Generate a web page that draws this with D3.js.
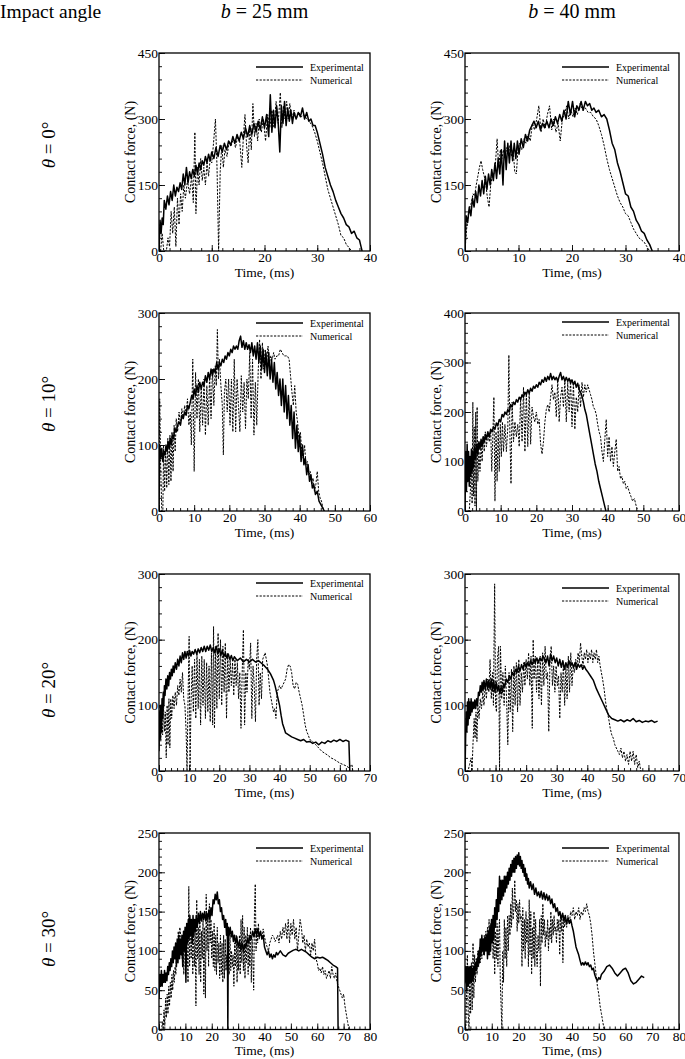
<!DOCTYPE html>
<html><head><meta charset="utf-8">
<script src="https://cdn.jsdelivr.net/npm/d3@7"></script>
<style>
html,body{margin:0;padding:0;background:#fff;}
svg{display:block;font-family:"Liberation Serif","Times New Roman",serif;}
</style></head>
<body><svg id="chart" width="685" height="1059"></svg>
<script>
// ---------- DATA ----------
const colHeaders = ["25", "40"];           // b values (mm)
const rowAngles = ["0", "10", "20", "30"]; // theta values (deg)
const xMaxes = [40, 40, 60, 60, 70, 70, 80, 80];
const yMaxes = [450, 450, 300, 400, 300, 300, 250, 250];
const yMajor = [150, 150, 100, 100, 100, 100, 50, 50];
const xMajor = 10;
const seriesNames = ["Experimental", "Numerical"];

// flat [t, F, t, F, ...] arrays: time (ms), contact force (N)
const exp_b25_t0 = [0,0, 0.2,70, 0.4,40, 0.6,75, 0.8,60, 1,115, 1.3,95, 1.6,125, 1.9,105, 2.2,135, 2.5,115, 2.8,150, 3.1,125, 3.4,145, 3.7,135, 4,155, 4.3,140, 4.6,175, 4.9,150, 5.2,190, 5.5,155, 5.8,180, 6.1,165, 6.4,185, 6.7,170, 7,195, 7.3,175, 7.6,200, 7.9,185, 8.2,205, 8.5,195, 8.8,215, 9.1,200, 9.4,220, 9.7,205, 10,225, 10.4,210, 10.8,235, 11.2,215, 11.6,240, 12,225, 12.4,245, 12.8,230, 13.2,250, 13.6,240, 14,260, 14.4,245, 14.8,265, 15.2,250, 15.6,270, 16,255, 16.4,280, 16.8,260, 17.2,285, 17.6,265, 18,290, 18.4,270, 18.8,295, 19.2,275, 19.6,305, 20,280, 20.4,310, 20.8,260, 21.1,355, 21.4,270, 21.7,320, 22,280, 22.3,330, 22.6,290, 22.9,225, 23.2,330, 23.5,290, 23.8,340, 24.1,285, 24.4,325, 24.7,295, 25,320, 25.3,290, 25.6,315, 26,300, 26.4,315, 26.8,305, 27.2,325, 27.6,300, 28,315, 28.4,295, 28.8,300, 29.2,285, 29.6,285, 30,270, 30.5,245, 31,220, 31.5,190, 32,170, 32.5,150, 33,135, 33.5,115, 34,100, 34.5,85, 35,75, 35.5,60, 36,55, 36.5,40, 37,45, 37.5,30, 38,25, 38.3,10, 38.5,0];
const num_b25_t0 = [0.3,0, 0.6,40, 0.9,0, 1.4,0, 1.7,30, 2,10, 2.3,90, 2.6,40, 2.9,100, 3.2,10, 3.5,120, 3.8,60, 4.1,130, 4.4,90, 4.7,150, 5,120, 5.4,160, 5.8,130, 6.2,170, 6.5,110, 6.8,270, 7,85, 7.3,190, 7.6,150, 7.9,210, 8.2,160, 8.5,190, 8.8,150, 9.1,200, 9.4,170, 9.7,210, 10,200, 10.3,240, 10.7,300, 11,190, 11.3,0, 11.6,180, 11.9,240, 12.2,190, 12.5,230, 12.9,215, 13.3,250, 13.7,240, 14.1,255, 14.5,235, 14.9,260, 15.3,250, 15.7,190, 16,260, 16.3,310, 16.6,240, 16.9,200, 17.2,280, 17.5,230, 17.8,335, 18.1,260, 18.4,290, 18.7,250, 19,300, 19.4,270, 19.8,300, 20.2,250, 20.6,310, 21,280, 21.4,320, 21.8,280, 22.2,340, 22.6,290, 23,360, 23.3,280, 23.6,330, 23.9,300, 24.2,340, 24.5,300, 24.8,335, 25.2,300, 25.6,320, 26,300, 26.5,315, 27,305, 27.5,310, 28,300, 28.5,295, 29,285, 29.5,270, 30,250, 30.5,225, 31,200, 31.5,170, 32,140, 32.5,120, 33,100, 33.5,80, 34,60, 34.5,35, 35,30, 35.5,15, 36,8, 36.5,0];
const exp_b40_t0 = [0,0, 0.2,80, 0.5,65, 0.8,100, 1.1,80, 1.4,120, 1.7,100, 2,135, 2.3,110, 2.6,150, 2.9,125, 3.2,160, 3.5,130, 3.8,170, 4.1,140, 4.4,175, 4.7,150, 5,185, 5.3,160, 5.6,200, 5.9,165, 6.2,210, 6.5,175, 6.8,230, 7.1,150, 7.4,250, 7.7,185, 8,245, 8.3,200, 8.6,250, 8.9,205, 9.2,245, 9.5,210, 9.8,250, 10.1,220, 10.5,255, 10.9,235, 11.3,265, 11.7,250, 12.1,275, 12.5,285, 12.9,295, 13.3,280, 13.7,295, 14.1,275, 14.5,290, 14.9,280, 15.3,295, 15.7,280, 16.1,300, 16.5,285, 16.9,305, 17.3,290, 17.7,310, 18.1,295, 18.5,320, 18.9,300, 19.3,340, 19.7,310, 20.1,340, 20.5,305, 20.9,330, 21.3,320, 21.7,340, 22.1,320, 22.5,340, 22.9,330, 23.3,335, 23.7,320, 24.1,325, 24.5,315, 25,320, 25.5,305, 26,310, 26.5,300, 27,275, 27.5,245, 28,230, 28.5,200, 29,180, 29.5,155, 30,130, 30.5,125, 31,100, 31.5,90, 32,70, 32.5,60, 33,45, 33.5,40, 34,25, 34.5,15, 35,0];
const num_b40_t0 = [0,0, 0.3,50, 0.6,80, 0.9,100, 1.2,110, 1.5,130, 1.8,125, 2.1,150, 2.4,170, 2.7,190, 3,205, 3.3,185, 3.6,170, 3.9,150, 4.2,120, 4.5,100, 4.8,150, 5.1,170, 5.4,175, 5.7,200, 6,255, 6.3,190, 6.6,230, 6.9,210, 7.2,230, 7.5,215, 7.8,235, 8.1,220, 8.4,240, 8.7,215, 9,230, 9.3,180, 9.6,175, 9.9,230, 10.2,245, 10.6,230, 11,255, 11.4,245, 11.8,265, 12.2,250, 12.6,290, 13,275, 13.4,300, 13.8,330, 14.2,270, 14.6,300, 15,280, 15.4,310, 15.8,330, 16.2,275, 16.6,300, 17,270, 17.4,290, 17.8,250, 18.2,300, 18.6,310, 19,330, 19.4,300, 19.8,320, 20.2,305, 20.6,325, 21,310, 21.5,335, 22,320, 22.5,325, 23,315, 23.5,315, 24,305, 24.5,300, 25,285, 25.5,265, 26,240, 26.5,210, 27,185, 27.5,165, 28,145, 28.5,125, 29,110, 29.5,100, 30,85, 30.5,80, 31,65, 31.5,50, 32,40, 32.5,30, 33,25, 33.5,20, 34,10, 34.5,0];
const exp_b25_t10 = [0,0, 0.2,100, 0.5,80, 0.8,95, 1.1,75, 1.4,90, 1.7,85, 2,100, 2.3,90, 2.6,105, 2.9,95, 3.2,110, 3.5,100, 3.8,115, 4.1,110, 4.5,125, 4.9,120, 5.3,130, 5.7,135, 6.1,130, 6.5,145, 6.9,140, 7.3,150, 7.7,145, 8.1,160, 8.5,155, 8.9,165, 9.3,175, 9.7,170, 10,185, 10.4,175, 10.8,190, 11.2,180, 11.6,195, 12,185, 12.4,195, 12.8,190, 13.2,205, 13.6,195, 14,210, 14.4,200, 14.8,215, 15.2,205, 15.6,215, 16,210, 16.4,225, 16.8,215, 17.2,225, 17.6,220, 18,230, 18.4,225, 18.8,235, 19.2,230, 19.6,240, 20,235, 20.4,245, 20.8,240, 21.2,250, 21.6,245, 22,250, 22.4,245, 22.8,258, 23.2,265, 23.6,248, 24,258, 24.4,245, 24.8,255, 25.2,245, 25.6,252, 26,240, 26.4,255, 26.8,235, 27.2,250, 27.6,230, 28,255, 28.4,225, 28.8,250, 29.2,215, 29.6,245, 30,210, 30.4,240, 30.8,205, 31.2,240, 31.6,200, 32,230, 32.4,195, 32.8,225, 33.2,185, 33.6,210, 34,175, 34.4,200, 34.8,160, 35.2,200, 35.6,150, 36,190, 36.4,140, 36.8,175, 37.2,130, 37.6,160, 38,110, 38.4,150, 38.8,95, 39.2,130, 39.6,90, 40,115, 40.4,75, 40.8,100, 41.2,70, 41.6,80, 42,55, 42.4,70, 42.8,45, 43.2,55, 43.6,35, 44,40, 44.5,25, 45,30, 45.5,15, 46,10, 46.5,5, 47,0];
const num_b25_t10 = [0,0, 0.2,170, 0.5,60, 0.8,0, 1.1,0, 1.3,100, 1.6,30, 1.9,95, 2.2,35, 2.5,110, 2.8,40, 3.1,115, 3.4,45, 3.7,120, 4,60, 4.3,130, 4.6,90, 4.9,140, 5.3,120, 5.7,150, 6.1,130, 6.5,155, 6.9,140, 7.3,160, 7.7,145, 8.1,170, 8.5,130, 8.9,150, 9.2,100, 9.6,230, 10,60, 10.4,210, 10.8,140, 11.2,200, 11.6,120, 12,190, 12.4,130, 12.8,200, 13.2,115, 13.6,190, 14,130, 14.4,205, 14.8,140, 15.2,215, 15.6,160, 16,220, 16.3,190, 16.6,275, 16.9,200, 17.2,230, 17.6,190, 18,160, 18.3,85, 18.6,180, 19,200, 19.4,150, 19.8,200, 20.2,130, 20.6,200, 21,120, 21.4,230, 21.8,120, 22.2,200, 22.6,160, 23,120, 23.4,205, 23.8,150, 24.2,195, 24.6,125, 25,200, 25.4,170, 25.8,240, 26.2,140, 26.6,230, 27,115, 27.4,195, 27.8,130, 28.2,210, 28.6,260, 29,200, 29.4,255, 29.8,215, 30.2,245, 30.6,225, 31,250, 31.4,225, 31.8,235, 32.2,230, 32.6,240, 33,230, 33.5,235, 34,235, 34.5,245, 35,240, 35.5,235, 36,235, 36.5,235, 37,230, 37.4,205, 37.8,180, 38.2,160, 38.6,190, 39,150, 39.4,135, 39.8,110, 40.2,120, 40.6,90, 41,80, 41.4,100, 41.8,70, 42.2,75, 42.6,55, 43,60, 43.4,40, 43.8,50, 44.2,30, 44.6,40, 45,60, 45.4,30, 45.8,20, 46.2,15, 46.6,5, 47,0];
const exp_b40_t10 = [0,0, 0.2,120, 0.4,40, 0.6,135, 0.8,60, 1,120, 1.2,50, 1.4,110, 1.6,70, 1.8,125, 2,80, 2.2,120, 2.4,90, 2.7,130, 3,105, 3.3,135, 3.6,115, 3.9,140, 4.2,125, 4.5,145, 4.8,130, 5.1,150, 5.4,140, 5.7,155, 6,145, 6.4,160, 6.8,150, 7.2,165, 7.6,160, 8,170, 8.4,165, 8.8,178, 9.2,172, 9.6,185, 10,180, 10.4,195, 10.8,190, 11.2,200, 11.6,195, 12,205, 12.4,200, 12.8,215, 13.2,210, 13.6,220, 14,215, 14.4,225, 14.8,220, 15.2,230, 15.6,225, 16,235, 16.4,230, 16.8,240, 17.2,235, 17.6,245, 18,238, 18.4,248, 18.8,242, 19.2,252, 19.6,248, 20,255, 20.4,250, 20.8,260, 21.2,255, 21.6,265, 22,260, 22.4,270, 22.8,262, 23.2,272, 23.6,265, 24,278, 24.4,265, 24.8,272, 25.2,265, 25.6,270, 26,262, 26.4,272, 26.8,280, 27.2,265, 27.6,272, 28,262, 28.4,270, 28.8,262, 29.2,268, 29.6,258, 30,265, 30.4,255, 30.8,262, 31.2,250, 31.6,258, 32,245, 32.4,240, 32.8,232, 33.2,220, 33.6,205, 34,195, 34.5,175, 35,155, 35.5,135, 36,115, 36.5,95, 37,80, 37.5,60, 38,45, 38.5,30, 39,15, 39.5,0];
const num_b40_t10 = [0.8,0, 1.2,0, 1.5,40, 1.8,100, 2,15, 2.2,220, 2.4,30, 2.6,170, 2.8,10, 3,200, 3.2,0, 3.4,210, 3.6,60, 3.9,120, 4.2,80, 4.5,135, 4.8,100, 5.1,150, 5.4,120, 5.7,160, 6,130, 6.4,155, 6.8,140, 7.2,165, 7.5,80, 7.8,150, 8.1,230, 8.4,20, 8.7,160, 9,60, 9.3,170, 9.6,80, 9.9,175, 10.2,110, 10.5,180, 10.8,120, 11.2,175, 11.6,120, 12,170, 12.3,315, 12.6,150, 12.9,55, 13.2,220, 13.6,140, 14,180, 14.4,150, 14.8,175, 15.2,130, 15.6,230, 16,140, 16.4,250, 16.8,120, 17.2,240, 17.6,130, 18,240, 18.4,135, 18.8,210, 19.2,190, 19.6,180, 20,200, 20.4,175, 20.8,185, 21.2,135, 21.6,115, 22,140, 22.4,180, 22.8,205, 23.2,215, 23.6,200, 24,230, 24.4,255, 24.8,225, 25.2,240, 25.6,190, 26,265, 26.4,180, 26.8,230, 27.2,250, 27.6,210, 28,265, 28.4,180, 28.8,260, 29.2,200, 29.6,265, 30,170, 30.4,260, 30.8,165, 31.2,230, 31.6,200, 32,255, 32.4,210, 32.8,260, 33.2,230, 33.6,255, 34,240, 34.4,255, 34.8,245, 35.2,235, 35.6,225, 36,210, 36.4,205, 36.8,195, 37.2,175, 37.6,160, 38,150, 38.4,120, 38.8,100, 39.2,145, 39.6,185, 40,110, 40.4,150, 40.8,100, 41.2,130, 41.6,90, 42,120, 42.4,145, 42.8,80, 43.2,90, 43.6,65, 44,70, 44.4,55, 44.8,60, 45.2,45, 45.6,50, 46,40, 46.5,30, 47,20, 47.5,25, 48,10, 48.5,0];
const exp_b25_t20 = [0,30, 0.2,90, 0.4,50, 0.6,100, 0.8,60, 1,110, 1.2,80, 1.4,120, 1.6,100, 1.8,130, 2,115, 2.3,140, 2.6,125, 2.9,145, 3.2,130, 3.5,150, 3.8,140, 4.1,155, 4.4,145, 4.7,160, 5,150, 5.4,165, 5.8,155, 6.2,170, 6.6,160, 7,175, 7.4,165, 7.8,180, 8.2,170, 8.6,182, 9,172, 9.4,182, 9.8,175, 10.2,183, 10.6,175, 11,182, 11.5,178, 12,185, 12.5,178, 13,186, 13.5,180, 14,188, 14.5,182, 15,190, 15.5,182, 16,190, 16.5,184, 17,192, 17.5,182, 18,188, 18.5,180, 19,190, 19.5,178, 20,186, 20.5,176, 21,184, 21.5,174, 22,180, 22.5,172, 23,178, 23.5,170, 24,176, 24.5,168, 25,174, 26,168, 27,172, 28,166, 29,170, 30,166, 31,170, 32,166, 33,168, 34,164, 35,160, 36,155, 37,148, 38,138, 38.5,130, 39,120, 39.5,110, 40,100, 40.5,85, 41,72, 41.5,65, 42,58, 43,55, 44,52, 45,50, 46,48, 47,46, 48,48, 49,44, 50,45, 51,42, 52,44, 53,40, 54,44, 55,42, 56,46, 57,44, 58,47, 59,45, 60,48, 61,45, 62,47, 63,45, 63.3,0];
const num_b25_t20 = [0,40, 0.3,100, 0.6,45, 0.9,95, 1.2,55, 1.5,100, 1.8,60, 2.1,90, 2.4,20, 2.7,100, 3,40, 3.3,110, 3.6,35, 3.9,110, 4.2,80, 4.6,115, 5,95, 5.4,120, 5.8,100, 6.2,130, 6.6,115, 7,140, 7.4,120, 7.8,150, 8.2,110, 8.6,100, 9,60, 9.3,0, 9.6,100, 10,205, 10.3,0, 10.6,100, 11,160, 11.4,90, 11.8,170, 12.2,80, 12.6,180, 13,95, 13.4,170, 13.8,70, 14.2,175, 14.6,100, 15,170, 15.4,80, 15.8,165, 16.2,90, 16.6,160, 17,75, 17.4,180, 17.8,70, 18.1,220, 18.4,65, 18.8,190, 19.2,95, 19.6,210, 20,110, 20.4,200, 20.8,100, 21.2,190, 21.6,120, 22,195, 22.4,80, 22.8,180, 23.2,120, 23.6,170, 24,130, 24.4,165, 24.8,115, 25.2,170, 25.6,130, 26,165, 26.4,110, 26.8,150, 27.2,65, 27.6,150, 28,215, 28.4,70, 28.8,150, 29.2,120, 29.6,170, 30,155, 30.4,195, 30.8,80, 31.2,160, 31.6,130, 32,75, 32.4,170, 32.8,200, 33.2,100, 33.6,150, 34,110, 34.4,170, 34.8,175, 35.2,180, 35.6,170, 36,160, 36.4,140, 36.8,120, 37.2,110, 37.6,100, 38,90, 38.4,95, 38.8,80, 39.2,120, 39.6,125, 40,130, 40.5,125, 41,130, 41.5,135, 42,140, 42.5,155, 43,162, 43.5,160, 44,150, 44.5,130, 45,125, 45.5,135, 46,132, 46.5,120, 47,110, 47.5,100, 48,85, 48.5,70, 49,60, 49.5,55, 50,48, 51,45, 52,40, 53,35, 54,30, 55,27, 56,24, 57,20, 58,18, 59,15, 60,12, 61,10, 62,8, 63,5, 64,10, 64.3,0];
const exp_b40_t20 = [0,0, 0.2,50, 0.4,90, 0.6,60, 0.8,105, 1,70, 1.2,110, 1.4,80, 1.6,105, 1.8,85, 2,110, 2.3,90, 2.6,105, 2.9,95, 3.2,108, 3.5,95, 3.8,110, 4.1,100, 4.4,120, 4.7,115, 5,130, 5.3,120, 5.6,135, 5.9,122, 6.2,138, 6.6,125, 7,140, 7.4,125, 7.8,138, 8.2,125, 8.6,140, 9,122, 9.4,138, 9.8,120, 10.2,135, 10.6,122, 11,130, 11.4,118, 11.8,128, 12.2,120, 12.6,132, 13,128, 13.5,140, 14,135, 14.5,145, 15,140, 15.5,150, 16,145, 16.5,155, 17,150, 17.5,160, 18,152, 18.5,162, 19,155, 19.5,165, 20,158, 20.5,165, 21,160, 21.5,168, 22,162, 22.5,170, 23,165, 23.5,172, 24,165, 24.5,172, 25,168, 25.5,175, 26,170, 26.5,165, 27,175, 27.5,160, 28,178, 28.5,168, 29,175, 29.5,165, 30,172, 30.5,160, 31,170, 31.5,158, 32,168, 32.5,155, 33,165, 33.5,158, 34,168, 34.5,160, 35,165, 35.5,158, 36,165, 36.5,155, 37,163, 37.5,158, 38,162, 38.5,155, 39,160, 39.5,155, 40,152, 41,145, 42,138, 43,125, 44,115, 45,105, 46,95, 47,85, 48,80, 49,78, 50,76, 51,78, 52,75, 53,78, 54,76, 55,80, 56,75, 57,77, 58,74, 59,76, 60,75, 61,77, 62,74, 63,76];
const num_b40_t20 = [0.5,0, 1,0, 1.5,10, 2,20, 2.3,0, 2.6,40, 3,80, 3.3,50, 3.6,90, 3.9,45, 4.2,100, 4.6,80, 5,110, 5.4,95, 5.8,120, 6.2,100, 6.6,130, 7,110, 7.4,140, 7.8,120, 8.2,170, 8.6,110, 9,150, 9.3,100, 9.7,285, 10,100, 10.3,90, 10.6,170, 11,190, 11.3,0, 11.6,190, 12,110, 12.4,150, 12.8,100, 13.2,160, 13.6,110, 14,40, 14.4,150, 14.8,90, 15.2,155, 15.6,60, 16,160, 16.4,100, 16.8,165, 17.2,90, 17.6,170, 18,100, 18.4,150, 18.8,120, 19.2,165, 19.6,130, 20,170, 20.4,140, 20.8,180, 21.2,130, 21.6,175, 22,65, 22.3,200, 22.6,140, 23,175, 23.4,120, 23.8,170, 24.2,110, 24.6,175, 25,100, 25.4,180, 25.8,130, 26.2,190, 26.6,140, 27,150, 27.4,60, 27.8,170, 28.2,190, 28.6,130, 29,160, 29.4,120, 29.8,160, 30.2,130, 30.6,145, 31,80, 31.4,150, 31.8,120, 32.2,165, 32.6,100, 33,160, 33.4,110, 33.8,175, 34.2,120, 34.6,180, 35,130, 35.4,160, 35.8,150, 36.2,170, 36.6,160, 37,180, 37.4,165, 37.8,195, 38.2,175, 38.6,160, 39,180, 39.4,170, 39.8,185, 40.2,165, 40.6,180, 41,170, 41.4,185, 41.8,165, 42.2,180, 42.6,170, 43,185, 43.4,165, 43.8,175, 44.2,160, 44.6,150, 45,140, 45.5,125, 46,105, 46.5,90, 47,80, 47.5,65, 48,55, 48.5,50, 49,40, 49.5,35, 50,30, 50.5,25, 51,35, 51.5,20, 52,30, 52.5,15, 53,25, 53.5,10, 54,30, 54.5,15, 55,30, 55.5,10, 56,25, 56.5,5, 57,15, 57.5,0];
const exp_b25_t30 = [0,40, 0.3,70, 0.6,55, 0.9,75, 1.2,55, 1.5,70, 1.8,60, 2.1,75, 2.4,60, 2.7,72, 3,62, 3.3,80, 3.6,70, 3.9,85, 4.2,75, 4.5,90, 4.8,80, 5.1,100, 5.4,85, 5.7,105, 6,90, 6.3,110, 6.6,80, 6.9,115, 7.2,85, 7.5,120, 7.8,90, 8.1,115, 8.4,95, 8.7,120, 9,80, 9.3,125, 9.6,100, 9.9,130, 10.2,60, 10.5,135, 10.8,110, 11.1,140, 11.4,115, 11.7,145, 12,120, 12.3,140, 12.6,110, 12.9,145, 13.2,120, 13.5,140, 13.8,125, 14.1,145, 14.5,130, 14.9,148, 15.3,135, 15.7,150, 16.1,138, 16.5,148, 16.9,140, 17.3,150, 17.7,138, 18.1,148, 18.5,140, 18.9,152, 19.3,140, 19.7,155, 20.1,145, 20.5,165, 20.9,160, 21.3,172, 21.7,165, 22.1,175, 22.5,160, 22.9,165, 23.3,150, 23.7,155, 24.1,140, 24.5,145, 24.9,130, 25.3,140, 25.6,120, 25.9,135, 26.1,0, 26.3,130, 26.6,120, 27,130, 27.4,118, 27.8,125, 28.2,112, 28.6,120, 29,110, 29.5,118, 30,105, 30.5,112, 31,102, 31.5,110, 32,100, 32.5,108, 33,105, 33.5,115, 34,110, 34.5,120, 35,115, 35.5,125, 36,118, 36.5,128, 37,120, 37.5,128, 38,118, 38.5,125, 39,115, 39.5,120, 40,105, 40.5,100, 41,95, 41.5,100, 42,92, 42.5,96, 43,90, 43.5,95, 44,92, 44.5,98, 45,95, 46,100, 47,95, 48,93, 49,97, 50,99, 51,101, 52,102, 53,100, 54,102, 55,100, 56,98, 57,95, 58,92, 59,90, 60,92, 61,91, 62,92, 63,90, 64,88, 65,85, 66,82, 67,80, 67.7,78, 67.9,0];
const num_b25_t30 = [0.5,0, 1,0, 1.3,10, 1.6,0, 1.9,25, 2.2,5, 2.5,40, 2.8,15, 3.1,45, 3.4,20, 3.7,55, 4,30, 4.3,60, 4.6,40, 4.9,70, 5.2,50, 5.5,75, 5.8,60, 6.1,80, 6.4,70, 6.7,110, 7,90, 7.3,125, 7.6,100, 7.9,130, 8.2,120, 8.5,110, 8.8,90, 9.1,120, 9.4,70, 9.7,115, 10,130, 10.3,80, 10.6,120, 11,60, 11.3,182, 11.6,80, 11.9,140, 12.2,90, 12.5,135, 12.8,70, 13.1,125, 13.4,80, 13.7,130, 14,30, 14.3,165, 14.6,90, 14.9,130, 15.2,70, 15.5,140, 15.8,60, 16.1,125, 16.4,90, 16.7,140, 17,45, 17.3,130, 17.6,40, 17.9,172, 18.2,100, 18.5,140, 18.8,80, 19.1,160, 19.4,110, 19.7,140, 20,90, 20.3,125, 20.6,80, 20.9,135, 21.2,75, 21.5,120, 21.8,70, 22.1,130, 22.4,85, 22.7,110, 23,65, 23.3,120, 23.6,70, 23.9,110, 24.2,60, 24.5,120, 24.8,65, 25.1,115, 25.4,75, 25.7,95, 26,70, 26.3,100, 26.6,70, 26.9,120, 27.2,75, 27.5,100, 27.8,80, 28.1,95, 28.4,55, 28.7,110, 29,80, 29.3,120, 29.6,60, 29.9,105, 30.2,75, 30.5,120, 30.8,70, 31.1,140, 31.4,85, 31.7,145, 32,75, 32.3,130, 32.6,65, 32.9,120, 33.2,85, 33.5,130, 33.8,70, 34.1,120, 34.4,80, 34.7,130, 35,60, 35.3,115, 35.6,90, 35.9,50, 36.2,150, 36.5,185, 36.8,100, 37.1,130, 37.4,110, 37.7,135, 38,115, 38.5,125, 39,115, 39.5,128, 40,118, 40.5,110, 41,105, 41.5,100, 42,110, 42.5,115, 43,120, 43.5,118, 44,112, 44.5,115, 45,120, 45.5,110, 46,125, 46.5,115, 47,130, 47.5,120, 48,135, 48.5,115, 49,140, 49.5,110, 50,135, 50.5,120, 51,140, 51.5,115, 52,130, 52.5,100, 53,120, 53.5,140, 54,130, 54.5,110, 55,120, 55.5,100, 56,115, 56.5,105, 57,110, 57.5,95, 58,110, 58.5,100, 59,115, 59.5,90, 60,85, 60.5,75, 61,78, 61.5,72, 62,80, 62.5,70, 63,75, 63.5,65, 64,70, 64.5,75, 65,65, 65.5,80, 66,70, 66.5,65, 67,72, 67.5,60, 68,55, 68.5,50, 69,45, 69.5,40, 70,45, 70.5,30, 71,20, 71.5,10, 72,0];
const exp_b40_t30 = [0,60, 0.3,80, 0.6,50, 0.9,80, 1.2,55, 1.5,80, 1.8,60, 2.1,80, 2.4,60, 2.7,78, 3,62, 3.3,80, 3.6,70, 3.9,85, 4.2,75, 4.5,90, 4.8,80, 5.1,100, 5.4,85, 5.7,115, 6,95, 6.3,120, 6.6,100, 6.9,115, 7.2,95, 7.5,118, 7.8,100, 8.1,120, 8.4,90, 8.7,125, 9,95, 9.3,130, 9.6,100, 9.9,140, 10.2,110, 10.5,145, 10.8,115, 11.1,155, 11.4,130, 11.7,165, 12,140, 12.3,180, 12.6,150, 12.9,195, 13.2,160, 13.5,190, 13.8,165, 14.1,190, 14.4,170, 14.7,195, 15,175, 15.3,195, 15.6,180, 15.9,200, 16.2,185, 16.5,205, 16.8,190, 17.1,210, 17.4,195, 17.7,215, 18,200, 18.3,218, 18.6,200, 18.9,220, 19.2,205, 19.5,222, 19.8,210, 20.1,225, 20.4,208, 20.7,220, 21,205, 21.3,215, 21.6,200, 21.9,210, 22.2,195, 22.5,205, 22.8,190, 23.1,198, 23.4,185, 23.7,192, 24,180, 24.5,188, 25,178, 25.5,185, 26,172, 26.5,180, 27,170, 27.5,175, 28,168, 28.5,176, 29,166, 29.5,174, 30,165, 30.5,172, 31,164, 31.5,170, 32,160, 32.5,166, 33,155, 33.5,160, 34,150, 34.5,155, 35,145, 35.5,150, 36,140, 36.5,148, 37,138, 37.5,145, 38,135, 38.5,142, 39,135, 39.5,140, 40,132, 40.5,125, 41,115, 41.5,105, 42,100, 42.5,95, 43,88, 43.5,82, 44,85, 44.5,82, 45,86, 45.5,82, 46,85, 46.5,80, 47,82, 47.5,76, 48,78, 48.5,70, 49,65, 49.5,62, 50,66, 50.5,64, 51,70, 52,74, 53,80, 54,82, 55,78, 56,72, 57,68, 58,72, 59,76, 60,78, 61,72, 62,62, 63,58, 64,60, 65,64, 66,68, 67,66];
const num_b40_t30 = [0.3,0, 0.6,50, 0.9,95, 1.2,20, 1.5,0, 1.8,75, 2.1,20, 2.4,85, 2.7,25, 3,110, 3.3,40, 3.6,95, 3.9,60, 4.2,90, 4.5,70, 4.8,100, 5.1,80, 5.4,105, 5.7,85, 6,110, 6.3,90, 6.6,115, 6.9,95, 7.2,120, 7.5,100, 7.8,125, 8.1,105, 8.4,130, 8.7,100, 9,140, 9.3,95, 9.6,135, 9.9,110, 10.2,140, 10.5,90, 10.8,130, 11.1,70, 11.4,125, 11.7,90, 12,135, 12.3,80, 12.6,120, 12.9,140, 13.2,60, 13.5,30, 13.8,0, 14.1,100, 14.4,60, 14.7,140, 15,90, 15.3,130, 15.6,80, 15.9,145, 16.2,100, 16.5,145, 16.8,120, 17.1,160, 17.4,130, 17.7,180, 18,140, 18.3,155, 18.6,190, 18.9,150, 19.2,165, 19.5,125, 19.8,160, 20.1,135, 20.4,165, 20.7,140, 21,145, 21.3,80, 21.6,155, 21.9,100, 22.2,140, 22.5,90, 22.8,150, 23.1,110, 23.4,140, 23.7,80, 24,165, 24.3,95, 24.6,150, 24.9,70, 25.2,130, 25.5,90, 25.8,150, 26.1,80, 26.4,140, 26.7,95, 27,80, 27.3,120, 27.6,100, 27.9,140, 28.2,55, 28.5,145, 28.8,110, 29.1,160, 29.4,120, 29.7,140, 30,105, 30.3,125, 30.6,115, 30.9,140, 31.2,100, 31.5,130, 31.8,115, 32.1,150, 32.4,110, 32.7,140, 33,120, 33.3,145, 33.6,125, 33.9,130, 34.2,110, 34.5,140, 34.8,125, 35.1,140, 35.4,95, 35.7,145, 36,125, 36.3,140, 36.6,85, 36.9,145, 37.2,130, 37.5,140, 38,130, 38.5,145, 39,135, 39.5,150, 40,145, 40.5,155, 41,140, 41.5,150, 42,145, 42.5,155, 43,140, 43.5,150, 44,145, 44.5,155, 45,150, 45.5,160, 46,150, 46.5,145, 47,135, 47.5,120, 48,100, 48.5,85, 49,70, 49.5,55, 50,45, 50.5,30, 51,20, 51.5,10, 52,0];

const expSeries = [exp_b25_t0, exp_b40_t0, exp_b25_t10, exp_b40_t10, exp_b25_t20, exp_b40_t20, exp_b25_t30, exp_b40_t30];
const numSeries = [num_b25_t0, num_b40_t0, num_b25_t10, num_b40_t10, num_b25_t20, num_b40_t20, num_b25_t30, num_b40_t30];

// ---------- LAYOUT ----------
const colLeft = [159, 465], colW = [211, 214];
const rowTop = [53, 313, 574, 833], rowH = [198, 198, 197, 196.5];
const rowLabelCy = [145, 404, 690, 939];
const legendDy = [14, 14, 10, 9, 9, 14, 15, 15];
const FONT = '"Liberation Serif","Times New Roman",serif';

const svg = d3.select("#chart");
svg.append("rect").attr("width", 685).attr("height", 1059).attr("fill", "#fff");

// headers
svg.append("text").attr("x", 0).attr("y", 18).attr("font-size", 19.5).text("Impact angle");
colHeaders.forEach((b, c) => {
  const t = svg.append("text").attr("x", colLeft[c] + colW[c] / 2).attr("y", 18)
    .attr("font-size", 20).attr("text-anchor", "middle");
  t.append("tspan").attr("font-style", "italic").text("b");
  t.append("tspan").text(" = " + b + " mm");
});
rowAngles.forEach((a, r) => {
  const t = svg.append("text").attr("transform", `translate(55,${rowLabelCy[r]}) rotate(-90)`)
    .attr("font-size", 19).attr("text-anchor", "middle");
  t.append("tspan").attr("font-style", "italic").text("θ");
  t.append("tspan").text(" = " + a + "°");
});

const toPairs = arr => d3.range(0, arr.length, 2).map(i => [arr[i], arr[i + 1]]);

for (let p = 0; p < 8; p++) {
  const r = Math.floor(p / 2), c = p % 2;
  const L = colLeft[c], T = rowTop[r], W = colW[c], H = rowH[r];
  const x = d3.scaleLinear().domain([0, xMaxes[p]]).range([L, L + W]);
  const y = d3.scaleLinear().domain([0, yMaxes[p]]).range([T + H, T]);
  const g = svg.append("g");

  const clipId = "clip" + p;
  g.append("clipPath").attr("id", clipId).append("rect")
    .attr("x", L).attr("y", T - 1).attr("width", W).attr("height", H + 1);

  const xMinor = d3.range(0, xMaxes[p] + 0.001, xMajor / 5);
  const yMinor = d3.range(0, yMaxes[p] + 0.001, yMajor[p] / 5);
  const xMaj = d3.range(0, xMaxes[p] + 0.001, xMajor);
  const yMaj = d3.range(0, yMaxes[p] + 0.001, yMajor[p]);

  // minor ticks (inward)
  g.append("g").attr("transform", `translate(0,${T + H})`)
    .call(d3.axisBottom(x).tickValues(xMinor).tickSize(-3).tickFormat(""))
    .call(s => s.select(".domain").remove());
  g.append("g").attr("transform", `translate(${L},0)`)
    .call(d3.axisLeft(y).tickValues(yMinor).tickSize(-3).tickFormat(""))
    .call(s => s.select(".domain").remove());
  // major ticks + labels
  const gx = g.append("g").attr("transform", `translate(0,${T + H})`)
    .call(d3.axisBottom(x).tickValues(xMaj).tickSize(-6).tickFormat(d3.format("d")));
  gx.select(".domain").remove();
  gx.selectAll("text").attr("font-family", FONT).attr("font-size", 13.5).attr("fill", "#000")
    .attr("y", 11).attr("dy", 0);
  const gy = g.append("g").attr("transform", `translate(${L},0)`)
    .call(d3.axisLeft(y).tickValues(yMaj).tickSize(-6).tickFormat(d3.format("d")));
  gy.select(".domain").remove();
  gy.selectAll("text").attr("font-family", FONT).attr("font-size", 13.5).attr("fill", "#000")
    .attr("x", -1).attr("dy", "0.3em");
  g.selectAll(".tick line").attr("stroke", "#000").attr("stroke-width", 0.9);

  // curves
  const line = d3.line().x(d => x(d[0])).y(d => y(d[1]));
  g.append("path").attr("clip-path", `url(#${clipId})`).datum(toPairs(numSeries[p]))
    .attr("d", line).attr("fill", "none").attr("stroke", "#000")
    .attr("stroke-width", 1).attr("stroke-dasharray", "2.2,1.4");
  g.append("path").attr("clip-path", `url(#${clipId})`).datum(toPairs(expSeries[p]))
    .attr("d", line).attr("fill", "none").attr("stroke", "#000")
    .attr("stroke-width", 1.5).attr("stroke-linejoin", "round");

  // frame
  g.append("rect").attr("x", L).attr("y", T).attr("width", W).attr("height", H)
    .attr("fill", "none").attr("stroke", "#000").attr("stroke-width", 1.3);

  // axis titles
  g.append("text").attr("x", L + W / 2).attr("y", T + H + 25.5).attr("text-anchor", "middle")
    .attr("font-size", 13.5).text("Time, (ms)");
  g.append("text").attr("transform", `translate(${L - 24},${T + H / 2}) rotate(-90)`)
    .attr("text-anchor", "middle").attr("font-size", 14).text("Contact force, (N)");

  // legend
  seriesNames.forEach((name, i) => {
    const ly = T + legendDy[p] + i * 13;
    g.append("line").attr("x1", L + 97).attr("x2", L + 144).attr("y1", ly).attr("y2", ly)
      .attr("stroke", "#000").attr("stroke-width", i === 0 ? 1.5 : 1)
      .attr("stroke-dasharray", i === 0 ? null : "2.2,1.4");
    g.append("text").attr("x", L + 151).attr("y", ly + 3.5).attr("font-size", 10).text(name);
  });
}
</script></body></html>
